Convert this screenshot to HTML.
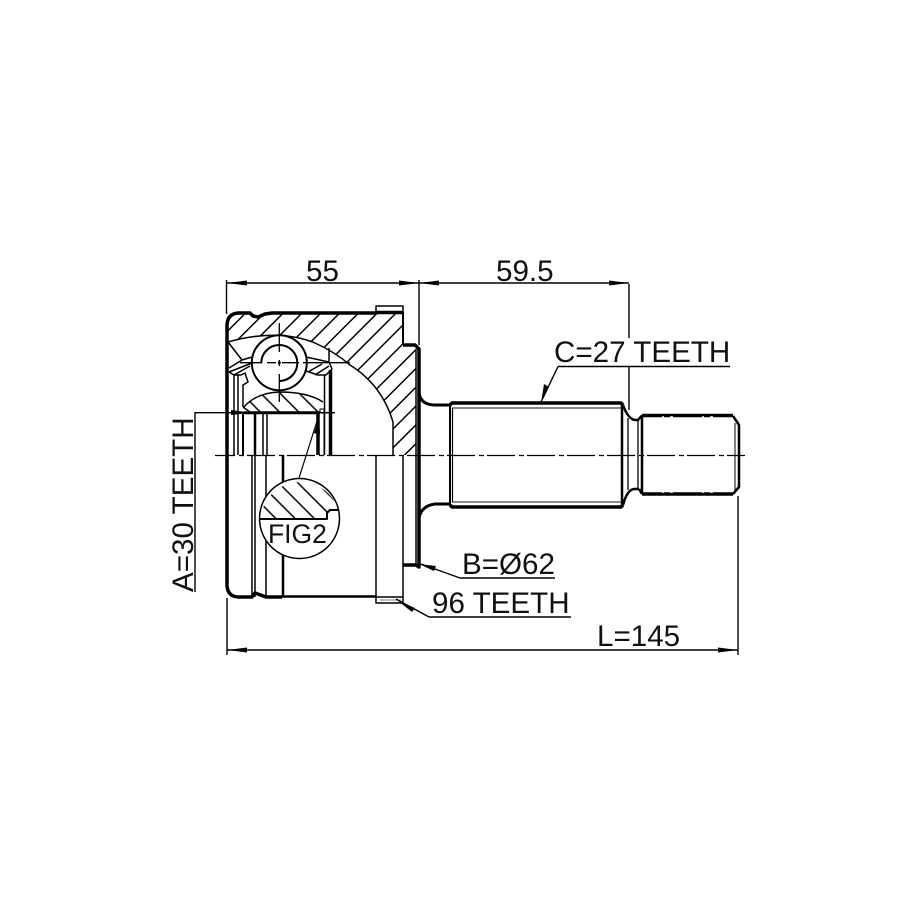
<!DOCTYPE html>
<html><head><meta charset="utf-8"><style>html,body{margin:0;padding:0;background:#fff}svg{display:block}text{font-family:"Liberation Sans",Arial,sans-serif;font-size:29.6px;fill:#111}</style></head><body>
<svg width="915" height="915" viewBox="0 0 915 915" xmlns="http://www.w3.org/2000/svg" fill="none" stroke="#000" stroke-linejoin="round">
<defs>
<pattern id="h" patternUnits="userSpaceOnUse" width="13.3" height="13.3" patternTransform="rotate(45 0 0) translate(2.700 0)"><line x1="6.650" y1="-1" x2="6.650" y2="15" stroke="#000" stroke-width="1.500"/></pattern>
<pattern id="h2" patternUnits="userSpaceOnUse" width="13.6" height="13.6" patternTransform="rotate(-45 0 0) translate(-1.600 0)"><line x1="6.800" y1="-1" x2="6.800" y2="15" stroke="#000" stroke-width="1.500"/></pattern>
<pattern id="h3" patternUnits="userSpaceOnUse" width="13.6" height="13.6" patternTransform="rotate(-45 0 0) translate(-5.300 0)"><line x1="6.800" y1="-1" x2="6.800" y2="15" stroke="#000" stroke-width="1.500"/></pattern>
</defs>
<!-- hatching housing -->
<path d="M228 342Q278 328 315 343Q335 352 350 365Q382 385 393 422V455H416V349L403 345V314H236L228 322Z" fill="url(#h)" stroke="none"/>
<path d="M244 407Q256 393 279 392Q308 392 323 402L329 412H246Z" fill="url(#h3)" stroke="none"/>
<!-- thick outline -->
<path d="M227 455V326Q227 314 238 313H250L253 316L258 317L265 314L272 313H376" stroke-width="3.500"/>
<path d="M376 312.500H403" stroke-width="3.500"/>
<path d="M403 312V345" stroke-width="2"/>
<path d="M403 345H415L419 349V455" stroke-width="3.500"/>
<path d="M227 455V586Q228 597 239 597H252L255 593L266 597H282" stroke-width="3.500"/>
<path d="M282 596.500H376" stroke-width="2.500"/>
<path d="M376 597H403" stroke-width="1.500"/>
<path d="M376 312V306H403V312" stroke-width="1.500"/>
<path d="M376 597V603H403L403 597" stroke-width="1.500"/>
<path d="M380 600H401" stroke-width="1" stroke="#777"/>
<path d="M416 349V455" stroke-width="1.500"/>
<path d="M419 455V567L416 565H403" stroke-width="3.500"/>
<path d="M416 455V565" stroke-width="1.500"/>
<path d="M403 455V597" stroke-width="1.500"/>
<path d="M376 455V597" stroke-width="1.500"/>
<path d="M283 455V597" stroke-width="2.500"/>
<path d="M266 455V597" stroke-width="1.500"/>
<path d="M252 455V597M255 455V597" stroke-width="1.500"/>
<!-- outer race curve -->
<path d="M228 342Q278 328 315 343Q335 352 350 365Q382 385 393 422V455" stroke-width="1.500"/>
<!-- cage / ball area -->
<path d="M228 342L242 360L229 368M242 360L252 357M229 372L252 363M234 375L250 366" stroke-width="1.500"/>
<path d="M229 372L234 375H241L245 373L248 382L243 385V407" stroke-width="1.500"/>
<path d="M306 357L329 362L332 369L326 375H318L306 371M308 372L322 364M315 375L329 366" stroke-width="1.500"/>
<path d="M329 348V362" stroke-width="1.500"/>
<circle cx="279.300" cy="362.700" r="27.500" fill="#fff" stroke-width="2"/>
<path d="M279.300 381A18 18 0 1 0 261.300 362.700" stroke-width="2"/>
<path d="M243 407L250 412M244 407Q256 393 279 392Q308 392 323 402" stroke-width="1.500"/>
<!-- hub thick -->
<path d="M244 412.700H320" stroke-width="3"/>
<path d="M234 375V455M238 375V455" stroke-width="1.500"/>
<path d="M243 412V455" stroke-width="2"/>
<path d="M255 412V455" stroke-width="2.500"/>
<path d="M263 412V455M267 412V455" stroke-width="1.500"/>
<path d="M318 412V455" stroke-width="3.500"/>
<path d="M320 412V409H324V455" stroke-width="1"/>
<path d="M324.500 375V455" stroke-width="1.500"/>
<path d="M330.500 370V455" stroke-width="3.500"/>
<path d="M320 412.700H335" stroke-width="1.500"/>
<!-- centre cross -->
<path d="M279.300 323V352M279.300 360V366M279.300 374V402" stroke-width="1.300"/>
<path d="M240 362.700H262M267 362.700H276M282 362.700H299M303 362.700H350" stroke-width="1.300"/>
<circle cx="279.300" cy="362.700" r="1.500" fill="#000" stroke="none"/>
<!-- shaft -->
<path d="M419 393Q421 405 435 405H450" stroke-width="3"/>
<path d="M419 518Q421 506 435 504H450" stroke-width="3"/>
<path d="M450 405L452 403H621L623 405" stroke-width="3.500"/>
<path d="M450 505L452 507H621L623 505" stroke-width="3.500"/>
<path d="M452 408H621M452 502H621" stroke-width="1.300" stroke="#444"/>
<path d="M450 405V505" stroke-width="2"/>
<path d="M452.500 408V502" stroke-width="1.200"/>
<path d="M622 404V506" stroke-width="2.500"/>
<path d="M623 405Q628 419 635 420H639" stroke-width="2.500"/>
<path d="M623 505Q627 490 634 489H639" stroke-width="2.500"/>
<path d="M628 418V490M638 420V489" stroke-width="1.300"/>
<path d="M642 415.500H733" stroke-width="3.500"/>
<path d="M642 494H733" stroke-width="3.500"/>
<path d="M639 489L642 494" stroke-width="2.500"/>
<path d="M638 420L642 415.500" stroke-width="2.500"/>
<path d="M642 416V494" stroke-width="2.500"/>
<path d="M733 416L739 425V487L733 494" stroke-width="2.500"/>
<path d="M735 423V490" stroke-width="1"/>
<!-- thread gaps -->
<g stroke="#fff" stroke-width="1.600">
<path d="M470 406H472M476 406H481M511 406H513M517 406H522M551 406H553M557 406H562M592 406H594M598 406H603"/>
<path d="M470 504H472M476 504H481M511 504H513M517 504H522M551 504H553M557 504H562M592 504H594M598 504H603"/>
<path d="M662 417H664M670 417H673M702 417H704M710 417H713"/>
<path d="M662 492H664M670 492H673M702 492H704M710 492H713"/>
</g>
<!-- centreline -->
<path d="M215 455.500H745" stroke-width="1.300" stroke-dasharray="28 4 5 3" stroke-dashoffset="8"/>
<!-- dimensions -->
<g stroke-width="1.400">
<path d="M226.500 280V314M419 280V345M629 284V338M629 366V410"/>
<path d="M227 283H419M419 283H629"/>
<path d="M227 598V655M738 496V655M227 650H738"/>
<path d="M195 592V412.700H245"/>
<path d="M558 366.500H730M558 366.500L541 402"/>
<path d="M460 578H555M460 578L421 564"/>
<path d="M429 617H571M429 617L396 599"/>
<path d="M299 478L318 418" stroke-width="1.200"/>
</g>
<g fill="#000" stroke="none">
<path d="M227 283L247 280.500V285.500Z"/>
<path d="M419 283L399 280.500V285.500Z"/>
<path d="M419 283L439 280.500V285.500Z"/>
<path d="M629 283L609 280.500V285.500Z"/>
<path d="M227 650L247 647.500V652.500Z"/>
<path d="M738 650L718 647.500V652.500Z"/>
<path d="M251 412.700L231 410V415Z"/>
<path d="M541 403L544 384L549 387Z"/>
<path d="M419 564L436 566L434 571Z"/>
<path d="M398 601L415 608L412 612Z"/>
<path d="M319 417L320 435L314 433Z"/>
</g>
<!-- FIG circle -->
<circle cx="299.500" cy="518.500" r="40" fill="#fff" stroke-width="1.500"/>
<path d="M260.500 519A40 40 0 0 1 338.500 510H329L327 513V519Z" fill="url(#h2)" stroke="none"/>
<path d="M260 519H327V513L330 510H339" stroke-width="2"/>
<!-- labels -->
<g stroke="none">
<text x="306" y="281">55</text>
<text x="496" y="281">59.5</text>
<text x="554" y="362">C=27 TEETH</text>
<text x="462" y="574">B=Ø62</text>
<text x="432" y="613">96 TEETH</text>
<text x="597" y="646">L=145</text>
<text x="268" y="543" style="font-size:26.500px">FIG2</text>
<text transform="translate(193 592) rotate(-90)">A=30 TEETH</text>
</g>
</svg>
</body></html>
